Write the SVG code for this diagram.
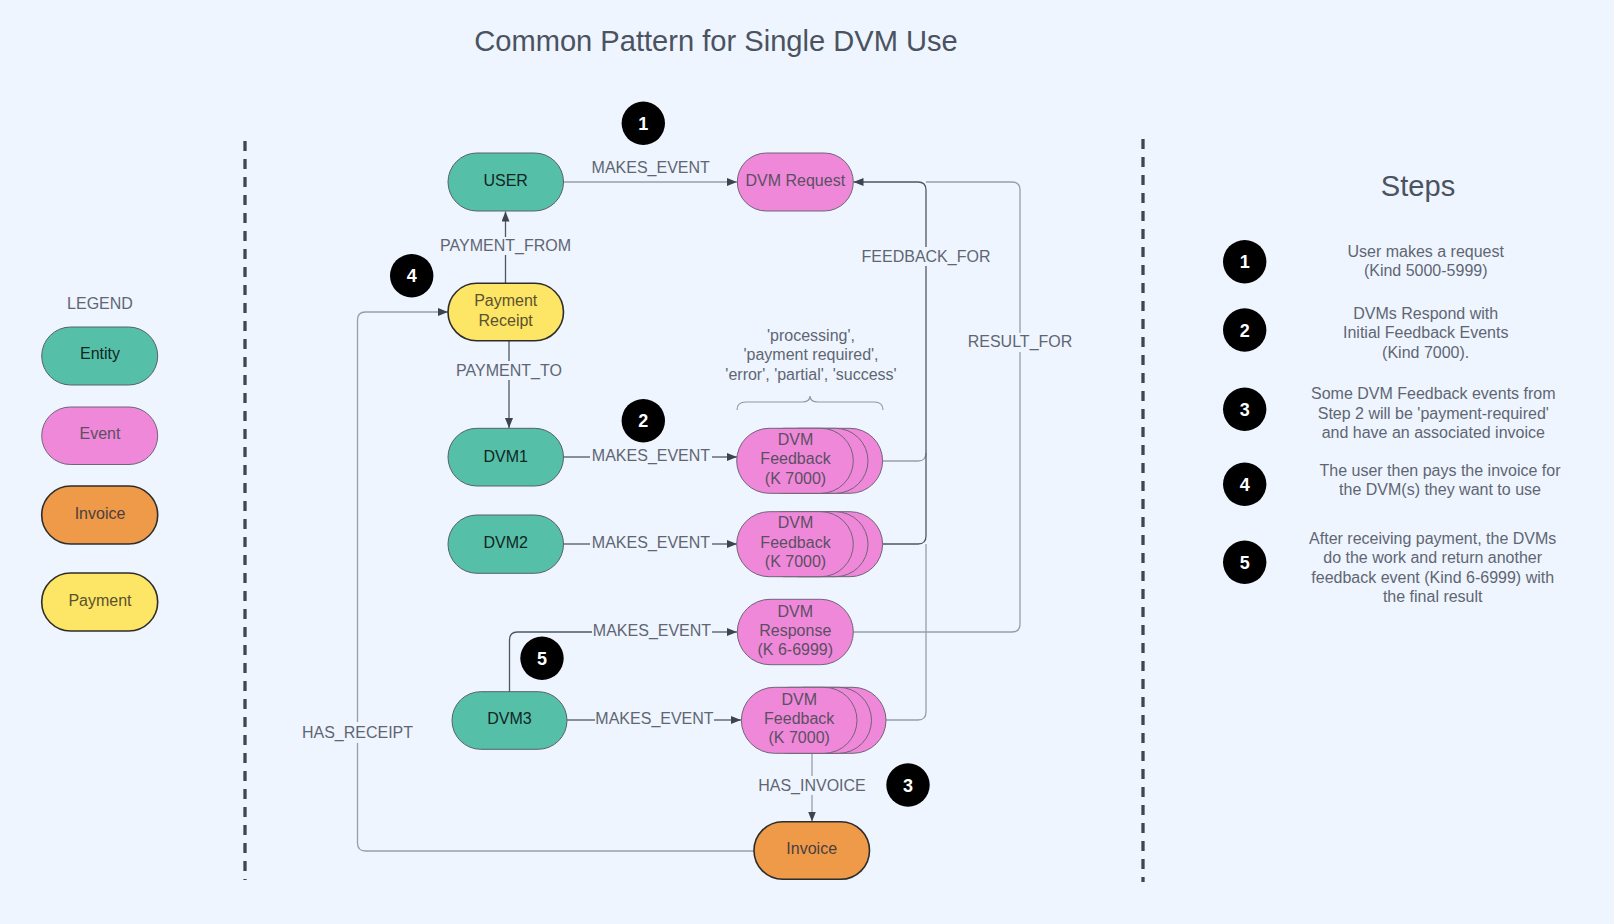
<svg xmlns="http://www.w3.org/2000/svg" width="1614" height="924" viewBox="0 0 1614 924">
<defs>
<marker id="arr" markerUnits="userSpaceOnUse" markerWidth="11" markerHeight="9" refX="10" refY="4" orient="auto">
<path d="M0,0 L10,4 L0,8 z" fill="#3c4450"/>
</marker>
<style>
text{font-family:"Liberation Sans",Arial,sans-serif;font-size:16px;text-anchor:middle}
.title{font-size:29.1px;fill:#4b5260}
.lbl{fill:#5f6672}
.step{fill:#5f6672}
.entity{fill:#56bfa8;stroke:#56606a;stroke-width:1}
.event{fill:#ef88d9;stroke:#6e6478;stroke-width:1}
.invoice{fill:#ef9a48;stroke:#2d2d2d;stroke-width:1.6}
.payment{fill:#fde565;stroke:#2d2d2d;stroke-width:1.6}
.tEntity{fill:#10261f}
.tEvent{fill:#5b4f63}
.tInvoice{fill:#4a4040}
.tPayment{fill:#5a5230}
.badge{fill:#000}
.bt{fill:#fff;font-weight:bold;font-size:18px}
.dk{fill:none;stroke:#4f5763;stroke-width:1.3}
.lt{fill:none;stroke:#959eaa;stroke-width:1.3}
.dash{fill:none;stroke:#3e4651;stroke-width:3.3;stroke-dasharray:10 8}
</style>
</defs>
<rect x="0" y="0" width="1614" height="924" fill="#eef5ff"/>

<text class="title" x="716" y="50.9">Common Pattern for Single DVM Use</text>
<text class="title" x="1418" y="196">Steps</text>

<g id="separators">
<line class="dash" x1="245" y1="141" x2="245" y2="880"/>
<line class="dash" x1="1143" y1="139" x2="1143" y2="882"/>
</g>

<g id="legend">
<text class="lbl" x="100" y="309">LEGEND</text>
<rect class="entity" x="41.7" y="327" width="116" height="58" rx="29"/>
<text class="tEntity" x="100" y="359">Entity</text>
<rect class="event" x="41.7" y="407" width="116" height="57.5" rx="28.7"/>
<text class="tEvent" x="100" y="439">Event</text>
<rect class="invoice" x="41.7" y="486" width="116" height="58" rx="29"/>
<text class="tInvoice" x="100" y="519">Invoice</text>
<rect class="payment" x="41.7" y="573" width="116" height="58" rx="29"/>
<text class="tPayment" x="100" y="605.7">Payment</text>
</g>

<g id="connectors">
<path class="lt" d="M563,182 L737,182" marker-end="url(#arr)"/>
<text class="lbl" x="650.7" y="172.7">MAKES_EVENT</text>

<path class="dk" d="M505.5,283 L505.5,255"/>
<path class="dk" d="M505.5,237 L505.5,211.5" marker-end="url(#arr)"/>
<text class="lbl" x="505.5" y="250.7">PAYMENT_FROM</text>

<path class="dk" d="M509,341 L509,361"/>
<path class="dk" d="M509,380 L509,428" marker-end="url(#arr)"/>
<text class="lbl" x="509" y="375.7">PAYMENT_TO</text>

<path class="dk" d="M563,457 L590,457"/>
<path class="dk" d="M712,457 L737,457" marker-end="url(#arr)"/>
<text class="lbl" x="651" y="461">MAKES_EVENT</text>

<path class="dk" d="M563,544 L590,544"/>
<path class="dk" d="M712,544 L737,544" marker-end="url(#arr)"/>
<text class="lbl" x="651" y="548">MAKES_EVENT</text>

<path class="dk" d="M509.5,692 L509.5,640 Q509.5,632 517.5,632 L592,632"/>
<path class="dk" d="M712,632 L737,632" marker-end="url(#arr)"/>
<text class="lbl" x="652" y="636.4">MAKES_EVENT</text>

<path class="dk" d="M567,720 L595,720"/>
<path class="dk" d="M714,720 L741,720" marker-end="url(#arr)"/>
<text class="lbl" x="654.5" y="724">MAKES_EVENT</text>

<path class="lt" d="M812,753 L812,776"/>
<path class="lt" d="M812,795 L812,821.5" marker-end="url(#arr)"/>
<text class="lbl" x="812" y="790.7">HAS_INVOICE</text>

<path class="lt" d="M754,851 L365.5,851 Q357.5,851 357.5,843 L357.5,743"/>
<path class="lt" d="M357.5,722 L357.5,320 Q357.5,312 365.5,312 L448,312" marker-end="url(#arr)"/>
<text class="lbl" x="357.5" y="738">HAS_RECEIPT</text>

<path class="lt" d="M883,461 L918,461 Q926,461 926,453"/>
<path class="dk" d="M926,461 L926,266"/>
<path class="dk" d="M926,247 L926,190 Q926,182 918,182 L853.5,182" marker-end="url(#arr)"/>
<path class="dk" d="M883,544 L918,544 Q926,544 926,536 L926,461"/>
<path class="lt" d="M886,720 L918,720 Q926,720 926,712 L926,544"/>
<text class="lbl" x="926" y="261.7">FEEDBACK_FOR</text>

<path class="lt" d="M853.5,632 L1012,632 Q1020,632 1020,624 L1020,352"/>
<path class="lt" d="M1020,333 L1020,190 Q1020,182 1012,182 L926,182"/>
<text class="lbl" x="1020" y="347.4">RESULT_FOR</text>

<path d="M737,410 Q737,402 746,402 L802,402 Q810,402 810,396 Q810,402 818,402 L874,402 Q883,402 883,410" fill="none" stroke="#8f98a4" stroke-width="1.2"/>
<text class="lbl" x="811" y="340.7">'processing',</text>
<text class="lbl" x="811" y="360.4">'payment required',</text>
<text class="lbl" x="811" y="379.7">'error', 'partial', 'success'</text>
</g>

<g id="user">
<rect class="entity" x="448" y="153" width="115.5" height="58" rx="29"/>
<text class="tEntity" x="505.7" y="185.7">USER</text>
</g>
<g id="dvm-request">
<rect class="event" x="737.3" y="153" width="116" height="58" rx="29"/>
<text class="tEvent" x="795.3" y="185.7">DVM Request</text>
</g>
<g id="payment-receipt">
<rect class="payment" x="448" y="283.3" width="115.5" height="57.5" rx="28.7"/>
<text class="tPayment" x="505.7" y="306">Payment</text>
<text class="tPayment" x="505.7" y="325.5">Receipt</text>
</g>
<g id="dvm1">
<rect class="entity" x="448" y="428.3" width="115.5" height="57.7" rx="28.8"/>
<text class="tEntity" x="505.7" y="461.7">DVM1</text>
</g>
<g id="dvm2">
<rect class="entity" x="448" y="515" width="115.5" height="58.3" rx="29"/>
<text class="tEntity" x="505.7" y="548">DVM2</text>
</g>
<g id="dvm3">
<rect class="entity" x="452" y="691.7" width="115" height="57.6" rx="28.8"/>
<text class="tEntity" x="509.5" y="724">DVM3</text>
</g>
<g id="feedback1">
<rect class="event" x="766" y="428.3" width="116.6" height="65" rx="32.5"/>
<rect class="event" x="751.4" y="428.3" width="116.6" height="65" rx="32.5"/>
<rect class="event" x="736.7" y="428.3" width="116.6" height="65" rx="32.5"/>
<text class="tEvent" x="795.5" y="445">DVM</text>
<text class="tEvent" x="795.5" y="464.4">Feedback</text>
<text class="tEvent" x="795.5" y="483.7">(K 7000)</text>
</g>
<g id="feedback2">
<rect class="event" x="766" y="511.7" width="116.6" height="65" rx="32.5"/>
<rect class="event" x="751.4" y="511.7" width="116.6" height="65" rx="32.5"/>
<rect class="event" x="736.7" y="511.7" width="116.6" height="65" rx="32.5"/>
<text class="tEvent" x="795.5" y="528.2">DVM</text>
<text class="tEvent" x="795.5" y="547.6">Feedback</text>
<text class="tEvent" x="795.5" y="566.9">(K 7000)</text>
</g>
<g id="dvm-response">
<rect class="event" x="737.3" y="599.3" width="116" height="65.4" rx="32.7"/>
<text class="tEvent" x="795.3" y="617.2">DVM</text>
<text class="tEvent" x="795.3" y="636.4">Response</text>
<text class="tEvent" x="795.3" y="655.3">(K 6-6999)</text>
</g>
<g id="feedback3">
<rect class="event" x="770.4" y="687.3" width="115.6" height="66" rx="33"/>
<rect class="event" x="755.9" y="687.3" width="115.6" height="66" rx="33"/>
<rect class="event" x="741.4" y="687.3" width="115.6" height="66" rx="33"/>
<text class="tEvent" x="799.2" y="704.5">DVM</text>
<text class="tEvent" x="799.2" y="724">Feedback</text>
<text class="tEvent" x="799.2" y="743.2">(K 7000)</text>
</g>
<g id="invoice">
<rect class="invoice" x="754" y="821.7" width="115.5" height="57.6" rx="28.8"/>
<text class="tInvoice" x="811.7" y="854">Invoice</text>
</g>

<g id="badges">
<circle class="badge" cx="643.3" cy="123.3" r="21.7"/><text class="bt" x="643.3" y="129.8">1</text>
<circle class="badge" cx="643.3" cy="420.7" r="21.7"/><text class="bt" x="643.3" y="427.2">2</text>
<circle class="badge" cx="908" cy="785" r="21.7"/><text class="bt" x="908" y="791.5">3</text>
<circle class="badge" cx="411.7" cy="275.7" r="21.7"/><text class="bt" x="411.7" y="282.2">4</text>
<circle class="badge" cx="542" cy="658.3" r="21.7"/><text class="bt" x="542" y="664.8">5</text>
</g>

<g id="steps">
<circle class="badge" cx="1244.7" cy="261.7" r="21.7"/><text class="bt" x="1244.7" y="268.2">1</text>
<circle class="badge" cx="1244.7" cy="330" r="21.7"/><text class="bt" x="1244.7" y="336.5">2</text>
<circle class="badge" cx="1244.7" cy="409.3" r="21.7"/><text class="bt" x="1244.7" y="415.8">3</text>
<circle class="badge" cx="1244.7" cy="484.3" r="21.7"/><text class="bt" x="1244.7" y="490.8">4</text>
<circle class="badge" cx="1244.7" cy="562.3" r="21.7"/><text class="bt" x="1244.7" y="568.8">5</text>
<text class="step" x="1425.7" y="257.4">User makes a request</text>
<text class="step" x="1425.7" y="276.4">(Kind 5000-5999)</text>
<text class="step" x="1425.7" y="319">DVMs Respond with</text>
<text class="step" x="1425.7" y="338.4">Initial Feedback Events</text>
<text class="step" x="1425.7" y="357.7">(Kind 7000).</text>
<text class="step" x="1433.3" y="399">Some DVM Feedback events from</text>
<text class="step" x="1433.3" y="418.7">Step 2 will be 'payment-required'</text>
<text class="step" x="1433.3" y="438">and have an associated invoice</text>
<text class="step" x="1440" y="475.7">The user then pays the invoice for</text>
<text class="step" x="1440" y="495.4">the DVM(s) they want to use</text>
<text class="step" x="1432.7" y="544">After receiving payment, the DVMs</text>
<text class="step" x="1432.7" y="563.4">do the work and return another</text>
<text class="step" x="1432.7" y="582.7">feedback event (Kind 6-6999) with</text>
<text class="step" x="1432.7" y="602.4">the final result</text>
</g>
</svg>
